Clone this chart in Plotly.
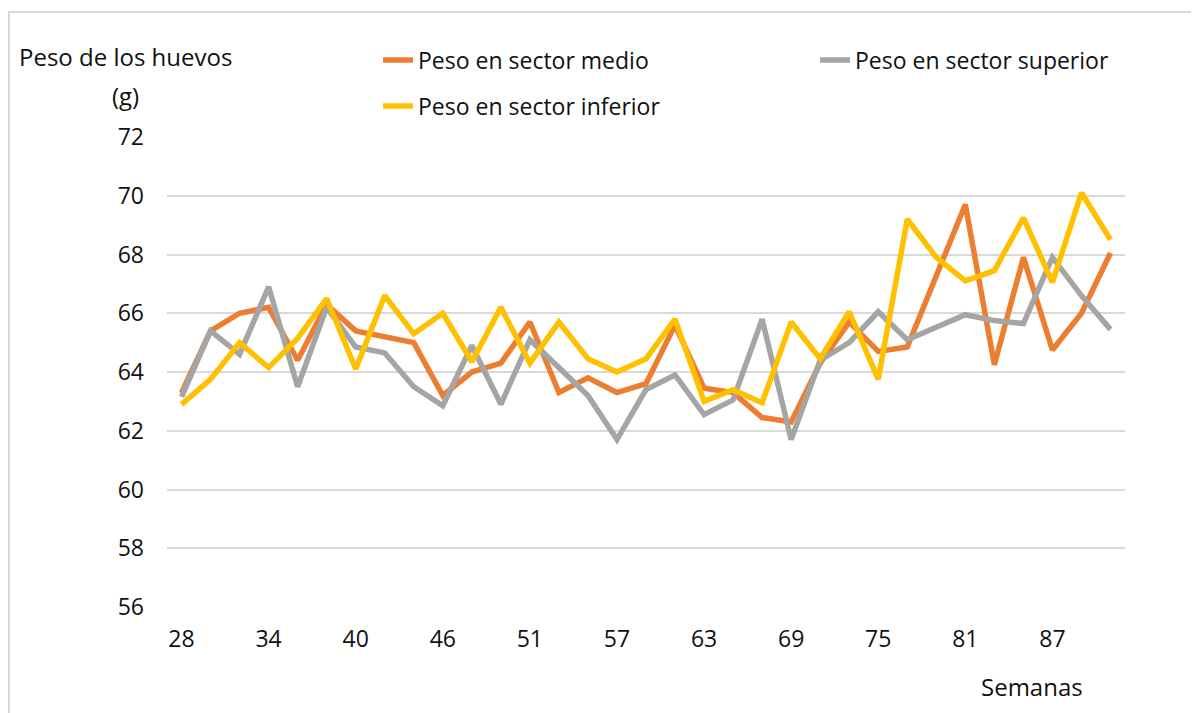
import plotly.graph_objects as go

semanas = ["28", "30", "32", "34", "36", "38", "40", "42", "44", "46", "48", "49",
           "51", "53", "55", "57", "59", "61", "63", "65", "67", "69", "71", "73",
           "75", "77", "79", "81", "83", "85", "87", "89", "91"]

peso_medio = [63.3, 65.4, 66.0, 66.2, 64.4, 66.3, 65.4, 65.2, 65.0, 63.2, 64.0, 64.3,
              65.7, 63.3, 63.8, 63.3, 63.6, 65.6, 63.45, 63.3, 62.45, 62.3, 64.3, 65.7,
              64.7, 64.85, 67.3, 69.7, 64.25, 67.9, 64.75, 66.0, 68.05]

peso_superior = [63.15, 65.4, 64.6, 66.9, 63.5, 66.2, 64.85, 64.65, 63.5, 62.85, 64.9, 62.9,
                 65.1, 64.15, 63.2, 61.7, 63.4, 63.9, 62.55, 63.05, 65.8, 61.7, 64.4, 65.0,
                 66.05, 65.1, 65.5, 65.95, 65.75, 65.65, 67.9, 66.6, 65.45]

peso_inferior = [62.9, 63.75, 65.0, 64.15, 65.15, 66.5, 64.1, 66.6, 65.3, 66.0, 64.35, 66.2,
                 64.3, 65.7, 64.45, 64.0, 64.45, 65.8, 63.0, 63.4, 62.95, 65.7, 64.45, 66.05,
                 63.75, 69.2, 67.9, 67.1, 67.45, 69.25, 67.05, 70.1, 68.5]

ticks_x = semanas[::3]

FUENTE = "Open Sans"
TEXTO = "#111111"

# la pagina html deja 8 px de margen en el body
OFF = 8

fig = go.Figure()

fig.add_trace(go.Scatter(x=semanas, y=peso_medio, mode="lines", name="Peso en sector medio",
                         line=dict(color="#ED7D31", width=5.5), legend="legend"))
fig.add_trace(go.Scatter(x=semanas, y=peso_superior, mode="lines", name="Peso en sector superior",
                         line=dict(color="#A5A5A5", width=5.5), legend="legend2"))
fig.add_trace(go.Scatter(x=semanas, y=peso_inferior, mode="lines", name="Peso en sector inferior",
                         line=dict(color="#FFC000", width=5.5), legend="legend3"))

W, H = 1199, 713
L, T = 167 - OFF, 137 - OFF
R = W - (1125 - OFF)
B = H - (607 - OFF)
pw, ph = W - L - R, H - T - B


def px_x(px):
    return (px - OFF - L) / pw


def px_y(py):
    return (H - B - (py - OFF)) / ph


leyenda = dict(orientation="h", xanchor="left", yanchor="middle",
               font=dict(family=FUENTE, size=23, color=TEXTO), bgcolor="rgba(0,0,0,0)")

fig.update_layout(
    width=W, height=H,
    margin=dict(l=L, r=R, t=T, b=B),
    paper_bgcolor="white", plot_bgcolor="white",
    font=dict(family=FUENTE, size=24, color=TEXTO),
    legend=dict(leyenda, x=px_x(378), y=px_y(60)),
    legend2=dict(leyenda, x=px_x(815), y=px_y(60)),
    legend3=dict(leyenda, x=px_x(378), y=px_y(106)),
    xaxis=dict(type="category", range=[-0.5, len(semanas) - 0.5],
               tickmode="array", tickvals=ticks_x, ticktext=ticks_x,
               showgrid=False, showline=False, zeroline=False, ticks="",
               ticklabelstandoff=16, tickfont=dict(size=23)),
    yaxis=dict(range=[56, 72], dtick=2, tick0=56,
               showgrid=True, gridcolor="#D9D9D9", gridwidth=1.5,
               zeroline=False, showline=False, ticks="",
               ticklabelstandoff=22, tickfont=dict(size=23)),
    annotations=[
        dict(text="Peso de los huevos", x=px_x(125), y=px_y(57), xref="paper", yref="paper",
             showarrow=False, xanchor="center", yanchor="middle"),
        dict(text="(g)", x=px_x(125), y=px_y(95), xref="paper", yref="paper",
             showarrow=False, xanchor="center", yanchor="middle"),
        dict(text="Semanas", x=px_x(1032), y=px_y(686), xref="paper", yref="paper",
             showarrow=False, xanchor="center", yanchor="middle"),
    ],
    shapes=[
        dict(type="line", xref="paper", yref="paper", x0=px_x(OFF + 1), x1=px_x(OFF + 1),
             y0=px_y(12), y1=px_y(740), line=dict(color="#D9D9D9", width=2)),
        dict(type="line", xref="paper", yref="paper", x0=px_x(OFF), x1=px_x(1230),
             y0=px_y(12), y1=px_y(12), line=dict(color="#D9D9D9", width=2)),
    ],
    showlegend=True,
)

fig.write_html("out.html")
